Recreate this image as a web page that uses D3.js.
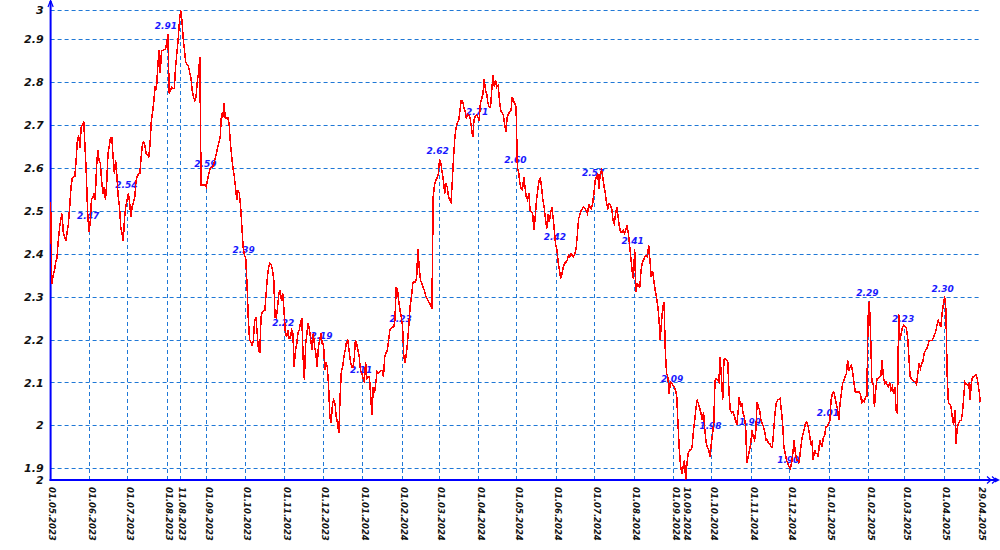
<!DOCTYPE html>
<html><head><meta charset="utf-8">
<script src="https://cdn.jsdelivr.net/npm/d3@7"></script>
<style>
body{margin:0;background:#fff}
svg{display:block}
text{font-family:"DejaVu Sans",Verdana,sans-serif;font-weight:bold;font-style:italic}
</style>
</head><body>
<svg id="chart" width="1000" height="550"></svg>
<script>
// ---- DATA (daily values, one array per month) ----
const may23=[2.52,2.33,2.35,2.36,2.38,2.39,2.43,2.46,2.48,2.493,2.447,2.44,2.43,2.45,2.47,2.51,2.555,2.575,2.578,2.58,2.617,2.663,2.675,2.647,2.694,2.70,2.706,2.648,2.586,2.50,2.45];
const jun23=[2.47,2.525,2.53,2.54,2.525,2.60,2.64,2.617,2.61,2.57,2.54,2.555,2.525,2.563,2.633,2.65,2.67,2.67,2.625,2.586,2.617,2.58,2.532,2.51,2.462,2.447,2.43,2.485,2.51,2.525];
const jul23=[2.54,2.517,2.485,2.51,2.52,2.532,2.57,2.58,2.586,2.586,2.625,2.655,2.66,2.65,2.633,2.63,2.625,2.655,2.71,2.73,2.756,2.79,2.78,2.834,2.873,2.82,2.873,2.873,2.875,2.875,2.89];
const aug23=[2.91,2.773,2.78,2.787,2.785,2.784,2.834,2.866,2.896,2.94,2.967,2.943,2.90,2.873,2.845,2.84,2.838,2.822,2.81,2.78,2.765,2.756,2.763,2.80,2.82,2.857,2.56,2.56,2.56,2.56,2.555];
const sep23=[2.57,2.585,2.598,2.60,2.60,2.61,2.62,2.633,2.647,2.66,2.67,2.726,2.717,2.75,2.714,2.715,2.717,2.70,2.656,2.625,2.60,2.58,2.555,2.525,2.548,2.54,2.51,2.462,2.415,2.396];
const oct23=[2.39,2.33,2.25,2.20,2.194,2.187,2.198,2.245,2.252,2.215,2.175,2.168,2.252,2.264,2.266,2.268,2.307,2.345,2.369,2.377,2.373,2.361,2.338,2.252,2.25,2.276,2.307,2.315,2.291,2.307,2.268];
const nov23=[2.22,2.206,2.222,2.203,2.203,2.222,2.215,2.136,2.175,2.19,2.215,2.222,2.241,2.249,2.16,2.105,2.19,2.215,2.238,2.222,2.198,2.175,2.215,2.183,2.168,2.136,2.183,2.198,2.215,2.19];
const dec23=[2.19,2.13,2.145,2.136,2.09,2.02,2.005,2.05,2.059,2.051,2.02,2.005,1.982,2.067,2.128,2.136,2.16,2.175,2.194,2.198,2.175,2.152,2.136,2.136,2.152,2.198,2.19,2.175,2.16,2.128,2.121];
const jan24=[2.11,2.10,2.148,2.11,2.113,2.113,2.067,2.024,2.09,2.075,2.10,2.125,2.121,2.125,2.128,2.128,2.113,2.16,2.168,2.175,2.198,2.222,2.226,2.229,2.229,2.245,2.322,2.315,2.29,2.268,2.252];
const feb24=[2.23,2.16,2.145,2.168,2.198,2.238,2.28,2.30,2.331,2.334,2.334,2.342,2.41,2.369,2.338,2.331,2.322,2.315,2.303,2.296,2.291,2.285,2.28,2.272,2.532,2.559,2.57,2.575,2.586];
const mar24=[2.62,2.61,2.59,2.57,2.54,2.563,2.555,2.532,2.525,2.52,2.57,2.625,2.671,2.694,2.706,2.71,2.733,2.756,2.756,2.741,2.733,2.714,2.725,2.722,2.714,2.694,2.671,2.71,2.72,2.722,2.718];
const apr24=[2.71,2.749,2.76,2.772,2.807,2.78,2.772,2.749,2.741,2.741,2.784,2.815,2.788,2.803,2.788,2.792,2.756,2.733,2.728,2.722,2.702,2.683,2.718,2.725,2.73,2.733,2.764,2.756,2.749,2.74];
const may24=[2.60,2.59,2.563,2.552,2.548,2.578,2.555,2.532,2.525,2.54,2.50,2.497,2.493,2.454,2.485,2.525,2.548,2.57,2.575,2.555,2.525,2.508,2.481,2.458,2.493,2.474,2.493,2.508,2.485,2.454,2.42];
const jun24=[2.41,2.38,2.361,2.342,2.353,2.369,2.377,2.38,2.384,2.396,2.392,2.40,2.396,2.392,2.40,2.41,2.443,2.481,2.49,2.50,2.505,2.508,2.505,2.50,2.493,2.516,2.508,2.505,2.516,2.54];
const jul24=[2.57,2.578,2.586,2.551,2.586,2.594,2.578,2.555,2.54,2.516,2.505,2.516,2.512,2.505,2.477,2.47,2.493,2.508,2.485,2.462,2.45,2.45,2.454,2.447,2.454,2.466,2.447,2.42,2.39,2.36,2.34];
const aug24=[2.41,2.311,2.33,2.326,2.322,2.361,2.38,2.385,2.392,2.396,2.392,2.419,2.384,2.345,2.36,2.338,2.315,2.30,2.28,2.25,2.20,2.24,2.276,2.287,2.175,2.121,2.113,2.074,2.101,2.098,2.094];
const sep24=[2.09,2.082,2.067,2.00,1.943,1.905,1.888,1.905,1.919,1.873,1.912,1.935,1.943,1.943,1.95,1.985,2.01,2.04,2.059,2.051,2.04,2.028,2.012,2.032,1.99,1.96,1.95,1.943,1.927,1.955];
const oct24=[1.98,2.005,2.105,2.109,2.105,2.101,2.16,2.113,2.059,2.152,2.156,2.152,2.148,2.074,2.035,2.03,2.032,2.024,2.012,2.001,2.028,2.067,2.043,2.051,2.028,2.02,1.997,1.912,1.927,1.943,1.958];
const nov24=[1.99,1.973,1.966,1.989,2.055,2.043,2.035,2.012,2.005,1.997,1.985,1.966,1.966,1.958,1.958,1.95,1.95,1.989,2.028,2.051,2.059,2.061,2.063,2.035,2.005,1.95,1.935,1.919,1.912,1.904];
const dec24=[1.90,1.912,1.935,1.966,1.935,1.919,1.919,1.912,1.943,1.966,1.981,1.993,2.005,2.008,1.997,1.981,1.958,1.962,1.919,1.943,1.935,1.935,1.927,1.966,1.958,1.95,1.973,1.977,1.997,1.997,2.005];
const jan25=[2.01,2.059,2.074,2.078,2.067,2.051,2.04,2.012,2.051,2.074,2.098,2.105,2.113,2.121,2.152,2.128,2.136,2.14,2.121,2.098,2.078,2.078,2.078,2.078,2.074,2.051,2.059,2.055,2.067,2.067,2.25];
const feb25=[2.29,2.21,2.10,2.098,2.043,2.082,2.109,2.109,2.113,2.117,2.152,2.113,2.098,2.101,2.094,2.09,2.098,2.082,2.09,2.074,2.09,2.035,2.028,2.26,2.20,2.214,2.229,2.233];
const mar25=[2.23,2.226,2.206,2.16,2.113,2.109,2.105,2.103,2.101,2.095,2.121,2.144,2.133,2.144,2.148,2.167,2.175,2.179,2.187,2.198,2.198,2.198,2.202,2.21,2.218,2.233,2.245,2.237,2.229,2.26,2.28];
const apr25=[2.30,2.27,2.12,2.051,2.051,2.043,2.02,2.001,2.035,1.958,1.997,2.005,2.012,2.012,2.028,2.067,2.101,2.098,2.095,2.098,2.059,2.101,2.113,2.113,2.117,2.117,2.101,2.082,2.055];

const monthStarts=["2023-05-01","2023-06-01","2023-07-01","2023-08-01","2023-09-01","2023-10-01","2023-11-01","2023-12-01",
 "2024-01-01","2024-02-01","2024-03-01","2024-04-01","2024-05-01","2024-06-01","2024-07-01","2024-08-01","2024-09-01","2024-10-01","2024-11-01","2024-12-01",
 "2025-01-01","2025-02-01","2025-03-01","2025-04-01"];
const monthValues=[may23,jun23,jul23,aug23,sep23,oct23,nov23,dec23,jan24,feb24,mar24,apr24,may24,jun24,jul24,aug24,sep24,oct24,nov24,dec24,jan25,feb25,mar25,apr25];

const tickDates=["01.05.2023","01.06.2023","01.07.2023","01.08.2023","11.08.2023","01.09.2023","01.10.2023","01.11.2023","01.12.2023",
 "01.01.2024","01.02.2024","01.03.2024","01.04.2024","01.05.2024","01.06.2024","01.07.2024","01.08.2024","01.09.2024","10.09.2024",
 "01.10.2024","01.11.2024","01.12.2024","01.01.2025","01.02.2025","01.03.2025","01.04.2025","29.04.2025"];
const labelDates=["01.06.2023","01.07.2023","01.08.2023","01.09.2023","01.10.2023","01.11.2023","01.12.2023","01.01.2024","01.02.2024",
 "01.03.2024","01.04.2024","01.05.2024","01.06.2024","01.07.2024","01.08.2024","01.09.2024","01.10.2024","01.11.2024","01.12.2024",
 "01.01.2025","01.02.2025","01.03.2025","01.04.2025"];
const labelValues=[2.47,2.54,2.91,2.59,2.39,2.22,2.19,2.11,2.23,2.62,2.71,2.60,2.42,2.57,2.41,2.09,1.98,1.99,1.90,2.01,2.29,2.23,2.30];
const yTicks=[1.9,2.0,2.1,2.2,2.3,2.4,2.5,2.6,2.7,2.8,2.9];

// ---- BUILD ----
const parseIso=d3.timeParse("%Y-%m-%d");
const parseDmy=d3.timeParse("%d.%m.%Y");
const fmtDmy=d3.timeFormat("%d.%m.%Y");
const series=[];
monthStarts.forEach((m,i)=>{
  const s=parseIso(m);
  monthValues[i].forEach((v,j)=>series.push({date:d3.timeDay.offset(s,j),value:v}));
});
const byKey=new Map(series.map(d=>[fmtDmy(d.date),d.value]));

const X0=50.6,X1=980.3,Y0=480,Y1=10;
const x=d3.scaleTime().domain(d3.extent(series,d=>d.date)).range([X0,X1]);
const yExt=d3.extent(series,d=>d.value);
const y=d3.scaleLinear().domain(yExt).range([Y0,Y1]);

const svg=d3.select("#chart");
const gridColor="#1f78d6";
const axisColor="#0000ff";

// horizontal grid
const grid=svg.append("g");
grid.selectAll("line.h").data(yTicks.concat([yExt[1]])).join("line")
  .attr("x1",X0).attr("x2",X1).attr("y1",d=>Math.round(y(d))+0.5).attr("y2",d=>Math.round(y(d))+0.5)
  .attr("stroke",gridColor).attr("stroke-width",1).attr("stroke-dasharray","4,3");
// vertical grid from axis to value at that date
grid.selectAll("line.v").data(tickDates.slice(1)).join("line")
  .attr("x1",d=>Math.round(x(parseDmy(d)))-0.5).attr("x2",d=>Math.round(x(parseDmy(d)))-0.5)
  .attr("y1",Y0).attr("y2",d=>y(byKey.get(d)))
  .attr("stroke",gridColor).attr("stroke-width",1).attr("stroke-dasharray","4,3");

// value labels
svg.append("g").selectAll("text").data(labelDates).join("text")
  .attr("x",d=>x(parseDmy(d))-2)
  .attr("y",(d,i)=>y(labelValues[i])-5)
  .attr("text-anchor","middle")
  .attr("font-size","9px")
  .attr("fill","#1a1aff")
  .text((d,i)=>d3.format(".2f")(labelValues[i]));

// axis lines with arrows
const ax=svg.append("g").attr("stroke",axisColor).attr("fill","none");
ax.append("line").attr("x1",X0).attr("x2",X0).attr("y1",Y0+1).attr("y2",1).attr("stroke-width",2);
ax.append("line").attr("x1",X0-1).attr("x2",997).attr("y1",Y0).attr("y2",Y0).attr("stroke-width",2);
ax.append("path").attr("d",`M${X0-2.6},7 L${X0},0.5 L${X0+2.6},7`).attr("stroke-width",1.2);
ax.append("path").attr("d",`M987,476.5 L991,480 L987,483.5`).attr("stroke-width",1.2);
ax.append("path").attr("d",`M992,476.5 L996,480 L992,483.5`).attr("stroke-width",1.2);
ax.append("path").attr("d",`M995,477.5 L1000,480 L995,482.5 Z`).attr("fill",axisColor).attr("stroke","none");

// line
svg.append("path").datum(series)
  .attr("fill","none").attr("stroke","#ff0000").attr("stroke-width",1.5)
  .attr("shape-rendering","crispEdges")
  .attr("d",d3.line().x(d=>x(d.date)).y(d=>y(d.value)));

// y axis labels via d3 axis
const yAxis=svg.append("g").attr("transform",`translate(${X0},0)`)
  .call(d3.axisLeft(y).tickValues(yTicks).tickSize(0).tickPadding(7).tickFormat(d3.format(".1~f")));
yAxis.select(".domain").remove();
yAxis.selectAll("text").attr("font-size","11px").attr("fill","#111").style("font-family",null);
// extent labels (rounded min / max)
svg.append("g").selectAll("text").data(yExt).join("text")
  .attr("x",X0-7).attr("y",d=>y(d)).attr("dy","0.35em")
  .attr("text-anchor","end").attr("font-size","11px").attr("fill","#111")
  .text(d=>d3.format(".0f")(d));

// x axis labels via d3 axis
const xAxis=svg.append("g").attr("transform",`translate(0,${Y0})`)
  .call(d3.axisBottom(x).tickValues(tickDates.map(parseDmy)).tickSize(0).tickFormat(fmtDmy));
xAxis.select(".domain").remove();
xAxis.selectAll("text")
  .attr("transform","rotate(90)").attr("x",7).attr("y",-1).attr("dy","0.35em")
  .attr("text-anchor","start").attr("font-size","8.5px").attr("fill","#111").style("font-family",null);
</script>
</body></html>
